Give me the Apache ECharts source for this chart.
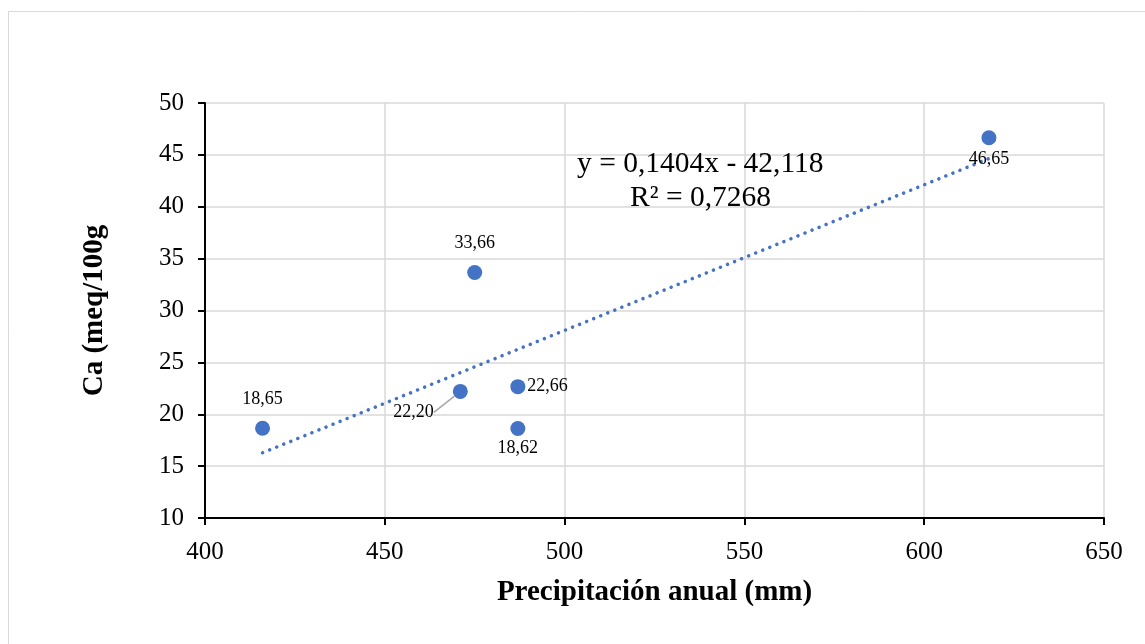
<!DOCTYPE html>
<html lang="es">
<head>
    <meta charset="UTF-8">
    <title>Ca vs precipitación</title>
    <script src="https://cdn.jsdelivr.net/npm/echarts@6/dist/echarts.min.js"></script>
    <style>
        html, body { margin: 0; padding: 0; background: #fff; }
    </style>
</head>
<body>
    <div id="chart" style="width: 1145px; height: 644px;"></div>
</body>
</html>
<script>
    // datos
    var precip = [416, 471, 475, 487, 487, 618];
    var calcio = [18.65, 22.20, 33.66, 22.66, 18.62, 46.65];
    var etiquetas = ['18,65', '22,20', '33,66', '22,66', '18,62', '46,65'];
    // tendencia lineal del gráfico original
    var pendiente = 0.1404;
    var intercepto = -42.118;
    var ecuacion = 'y = 0,1404x - 42,118';
    var r2Texto = 'R² = 0,7268';

    var azul = '#4472C4';
    var fuente = '"Liberation Serif", "Times New Roman", serif';

    // posición de cada etiqueta
    var posEtiqueta = [
        { position: 'top', distance: 12 },
        { position: 'left', distance: 5 },
        { position: 'top', distance: 13 },
        { position: 'right', distance: 2 },
        { position: 'bottom', distance: 3 },
        { position: 'bottom', distance: 5, offset: [12, 0] }
    ];

    var puntos = precip.map(function (x, i) {
        return {
            value: [x, calcio[i]],
            label: Object.assign({ show: true, formatter: etiquetas[i] }, posEtiqueta[i]),
            labelLine: { show: i === 1 }
        };
    });

    var xMin = Math.min.apply(null, precip);
    var xMax = Math.max.apply(null, precip);
    var tendencia = [
        [xMin, pendiente * xMin + intercepto],
        [xMax, pendiente * xMax + intercepto]
    ];

    var chart = echarts.init(document.getElementById('chart'));
    chart.setOption({
        backgroundColor: '#fff',
        animation: false,
        textStyle: { fontFamily: fuente, color: '#000' },
        grid: { left: 205, right: 41, top: 103, bottom: 126 },
        graphic: [
            {
                type: 'rect',
                shape: { x: 8.5, y: 11.5, width: 1200, height: 700 },
                style: { fill: 'none', stroke: '#d9d9d9', lineWidth: 1 },
                silent: true,
                z: 0
            },
            {
                type: 'text',
                left: 577,
                top: 149,
                z: 100,
                style: { text: ecuacion, font: '29.5px ' + fuente, fill: '#000' }
            },
            {
                type: 'text',
                left: 630,
                top: 183,
                z: 100,
                style: { text: r2Texto, font: '29.5px ' + fuente, fill: '#000' }
            }
        ],
        xAxis: {
            type: 'value',
            min: 400,
            max: 650,
            interval: 50,
            name: 'Precipitación anual (mm)',
            nameLocation: 'middle',
            nameGap: 60,
            nameTextStyle: { fontSize: 29, fontWeight: 'bold', fontFamily: fuente, color: '#000' },
            axisLine: { lineStyle: { color: '#000', width: 2 } },
            axisTick: { show: true, length: 7, lineStyle: { color: '#000', width: 2 } },
            axisLabel: { fontSize: 25, color: '#000', fontFamily: fuente, margin: 22 },
            splitLine: { show: true, lineStyle: { color: '#d9d9d9', width: 1.5 } }
        },
        yAxis: {
            type: 'value',
            min: 10,
            max: 50,
            interval: 5,
            name: 'Ca (meq/100g',
            nameLocation: 'middle',
            nameGap: 96,
            nameTextStyle: { fontSize: 29, fontWeight: 'bold', fontFamily: fuente, color: '#000' },
            axisLine: { show: true, lineStyle: { color: '#000', width: 2 } },
            axisTick: { show: true, length: 7, lineStyle: { color: '#000', width: 2 } },
            axisLabel: { fontSize: 25, color: '#000', fontFamily: fuente, margin: 21 },
            splitLine: { show: true, lineStyle: { color: '#d9d9d9', width: 1.5 } }
        },
        series: [
            {
                name: 'Tendencia',
                type: 'line',
                data: tendencia,
                symbol: 'none',
                silent: true,
                z: 1,
                lineStyle: { color: azul, width: 3.5, type: [0.1, 7.5], cap: 'round' }
            },
            {
                name: 'Ca',
                type: 'scatter',
                data: puntos,
                symbolSize: 15,
                z: 3,
                itemStyle: { color: azul, opacity: 1 },
                label: { fontSize: 18, color: '#000', fontFamily: fuente },
                labelLayout: function (params) {
                    if (params.dataIndex === 1) {
                        return { dx: -14, dy: 21 };
                    }
                },
                labelLine: { show: false, lineStyle: { color: '#a6a6a6', width: 1.5 } }
            }
        ]
    });
    window.onresize = chart.resize;
</script>
